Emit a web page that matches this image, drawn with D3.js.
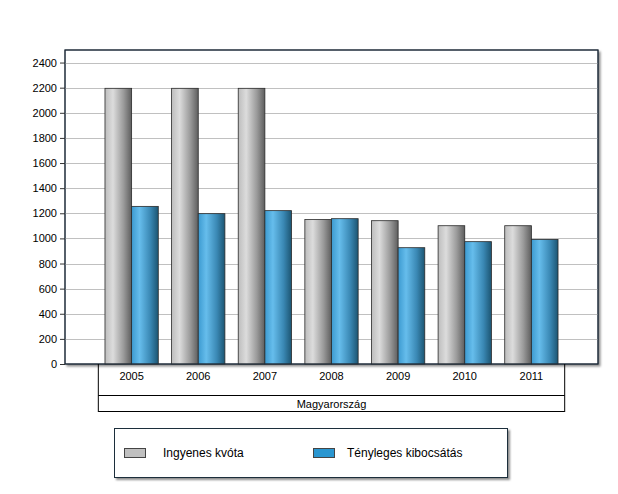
<!DOCTYPE html>
<html><head><meta charset="utf-8">
<script src="https://cdn.jsdelivr.net/npm/d3@7/dist/d3.min.js"></script>
<style>body{margin:0;background:#fff;}svg{display:block;font-family:"Liberation Sans",Arial,sans-serif;}</style>
</head><body><svg id="c" width="618" height="494"></svg>
<script>
const years = ["2005","2006","2007","2008","2009","2010","2011"];
const quota = [2195, 2195, 2195, 1150, 1141, 1101, 1101];
const emission = [1255, 1197, 1221, 1157, 926, 974, 992];
const seriesNames = ["Ingyenes kvóta", "Tényleges kibocsátás"];
const yTicks = [0,200,400,600,800,1000,1200,1400,1600,1800,2000,2200,2400];
const groupLabel = "Magyarország";

const svg = d3.select("#c");
const L=65, R=598, T=50, B=364;
const x = d3.scaleLinear().domain([0, years.length+1]).range([L, R]);
const y = d3.scaleLinear().domain([0, 2500]).range([B, T]);
const step = x(1)-x(0);
const bw = step*0.4;

const defs = svg.append("defs");
function grad(id, stops){
  const g = defs.append("linearGradient").attr("id",id).attr("x1","0").attr("x2","1").attr("y1","0").attr("y2","0");
  stops.forEach(s=>g.append("stop").attr("offset",s[0]).attr("stop-color",s[1]));
}
grad("gGray",[[0,"#bdbdbd"],[0.3,"#dcdcdc"],[0.7,"#9a9a9a"],[1,"#5e5e5e"]]);
grad("gBlue",[[0,"#3c9ad0"],[0.3,"#66bdec"],[0.7,"#3a88b4"],[1,"#1c5572"]]);
const filt = defs.append("filter").attr("id","sh").attr("x","-5%").attr("y","-5%").attr("width","115%").attr("height","120%");
filt.append("feDropShadow").attr("dx",2).attr("dy",2).attr("stdDeviation",1).attr("flood-color","#000").attr("flood-opacity",0.45);

// plot frame with shadow
svg.append("rect").attr("x",L).attr("y",T).attr("width",R-L).attr("height",B-T)
  .attr("fill","#fff").attr("stroke","#1f2d3a").attr("stroke-width",1).attr("filter","url(#sh)");

// gridlines
svg.append("g").selectAll("line").data(yTicks.filter(d=>d>0)).join("line")
  .attr("x1",L).attr("x2",R).attr("y1",d=>Math.round(y(d))+0.5).attr("y2",d=>Math.round(y(d))+0.5)
  .attr("stroke","#c0c0c0");

// y axis
const ya = svg.append("g").attr("transform",`translate(${L},0)`)
  .call(d3.axisLeft(y).tickValues(yTicks).tickFormat(d3.format("d")).tickSize(5).tickPadding(3));
ya.select(".domain").remove();
ya.selectAll("line").attr("stroke","#333");
ya.selectAll("text").attr("font-size","11px").attr("fill","#000").attr("font-family","Liberation Sans, Arial, sans-serif");

// bars
const g = svg.append("g");
years.forEach((yr,i)=>{
  const cx = x(i+1);
  [[quota[i],"url(#gGray)",cx-bw],[emission[i],"url(#gBlue)",cx]].forEach(([v,f,bx])=>{
    g.append("rect").attr("x",bx).attr("y",y(v)).attr("width",bw).attr("height",y(0)-y(v))
      .attr("fill",f).attr("stroke","#2a2a2a").attr("stroke-width",0.8);
  });
});

// redraw frame border on top
svg.append("rect").attr("x",L).attr("y",T).attr("width",R-L).attr("height",B-T)
  .attr("fill","none").attr("stroke","#1f2d3a").attr("stroke-width",1);

// category labels
const x0 = x(0.5), x1 = x(years.length+0.5);
svg.append("g").selectAll("text").data(years).join("text")
  .attr("x",(d,i)=>x(i+1)).attr("y",380).attr("text-anchor","middle")
  .attr("font-size","11px").text(d=>d);
const box = svg.append("g").attr("stroke","#000").attr("fill","none");
box.append("line").attr("x1",x0).attr("x2",x0).attr("y1",B).attr("y2",412);
box.append("line").attr("x1",x1).attr("x2",x1).attr("y1",B).attr("y2",412);
box.append("line").attr("x1",x0).attr("x2",x1).attr("y1",395.5).attr("y2",395.5);
box.append("line").attr("x1",x0).attr("x2",x1).attr("y1",411.5).attr("y2",411.5);
svg.append("text").attr("x",(x0+x1)/2).attr("y",408).attr("text-anchor","middle")
  .attr("font-size","11px").text(groupLabel);

// legend
svg.append("rect").attr("x",114.5).attr("y",428.5).attr("width",393).attr("height",49)
  .attr("fill","#fff").attr("stroke","#1f2d3a").attr("filter","url(#sh)");
const lg = [{n:seriesNames[0],c:"#c0c0c0",sx:124,tx:163},{n:seriesNames[1],c:"#2a96d0",sx:313,tx:347}];
lg.forEach(d=>{
  svg.append("rect").attr("x",d.sx+0.5).attr("y",448.5).attr("width",21).attr("height",9)
    .attr("fill",d.c).attr("stroke","#444");
  svg.append("text").attr("x",d.tx).attr("y",457).attr("font-size","12px").text(d.n);
});
</script></body></html>
